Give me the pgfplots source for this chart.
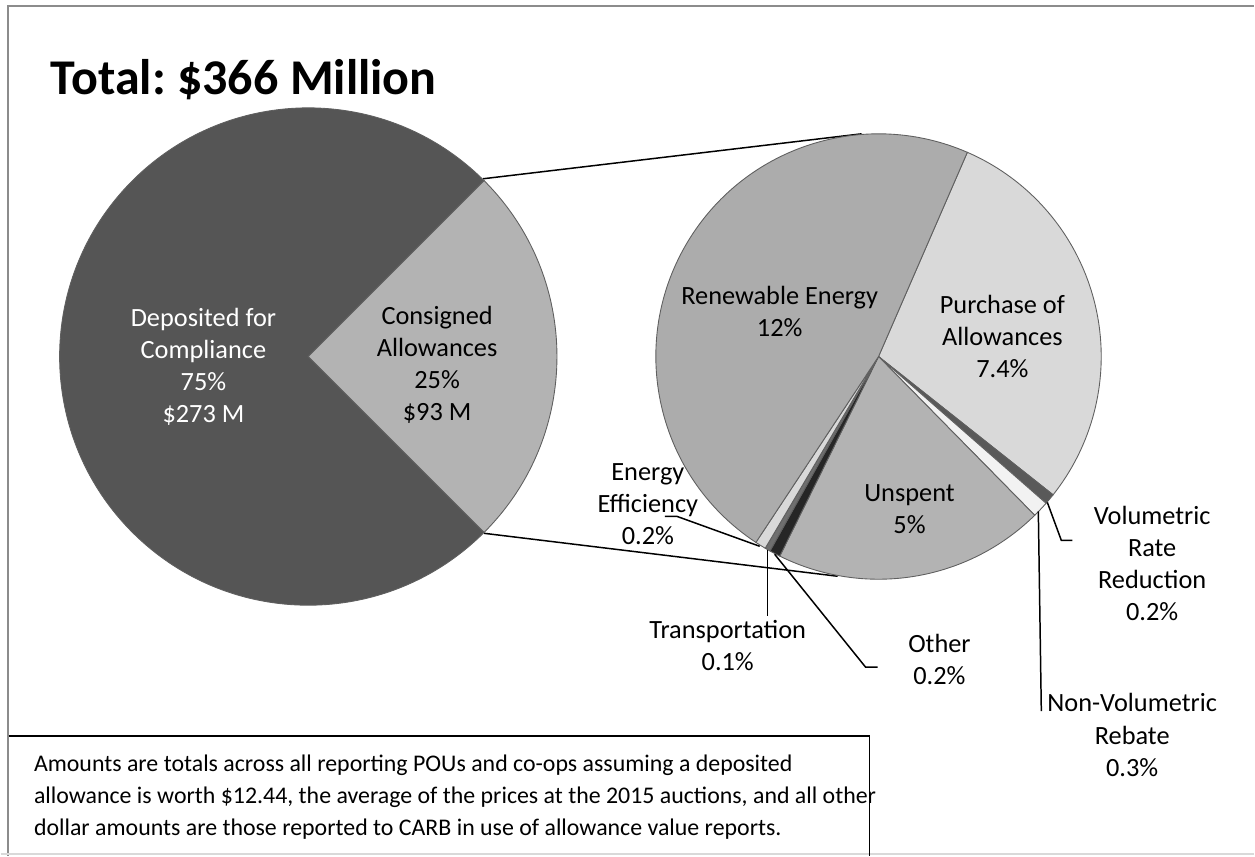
\documentclass[border=0pt]{standalone}
\usepackage{pgfplots}
\pgfplotsset{compat=1.18}
\usepackage{pgfplotstable}
\usepackage{fontspec}
\setmainfont{Carlito}
\frenchspacing

\definecolor{deposited}{HTML}{555555}
\definecolor{consigned}{HTML}{B3B3B3}
\definecolor{renew}{HTML}{ACACAC}
\definecolor{purchase}{HTML}{D9D9D9}
\definecolor{volumetric}{HTML}{595959}
\definecolor{nonvol}{HTML}{F2F2F2}
\definecolor{unspent}{HTML}{B3B3B3}
\definecolor{other}{HTML}{262626}
\definecolor{transport}{HTML}{6F6F6F}
\definecolor{effic}{HTML}{D9D9D9}
\definecolor{edge}{HTML}{5F5F5F}
\definecolor{framegray}{HTML}{8C8C8C}

% share of the total allowance value, percent
\pgfplotstableread[col sep=comma]{
part,value,colour
Deposited for Compliance,75,deposited
Consigned Allowances,25,consigned
}\mainpie

% use of consigned allowance value, percent of total (clockwise)
\pgfplotstableread[col sep=comma]{
part,value,colour
Purchase of Allowances,7.4,purchase
Volumetric Rate Reduction,0.2,volumetric
Non-Volumetric Rebate,0.3,nonvol
Unspent,5,unspent
Other,0.2,other
Transportation,0.1,transport
Energy Efficiency,0.2,effic
Renewable Energy,12,renew
}\splitpie

% #1 table, #2 prefix, #3 start angle; slices run clockwise
\newcommand\pieangles[3]{%
  \gdef\pietotal{0}%
  \pgfplotstableforeachcolumnelement{value}\of#1\as\v{%
    \pgfmathparse{\pietotal+\v}\xdef\pietotal{\pgfmathresult}}%
  \gdef\pieacc{0}%
  \pgfplotstableforeachcolumnelement{value}\of#1\as\v{%
    \pgfmathparse{#3-\pieacc/\pietotal*360}%
    \expandafter\xdef\csname #2s\pgfplotstablerow\endcsname{\pgfmathresult}%
    \pgfmathparse{\pieacc+\v}\xdef\pieacc{\pgfmathresult}%
    \pgfmathparse{#3-\pieacc/\pietotal*360}%
    \expandafter\xdef\csname #2e\pgfplotstablerow\endcsname{\pgfmathresult}}%
  \pgfplotstableforeachcolumnelement{colour}\of#1\as\c{%
    \xglobal\colorlet{#2c\pgfplotstablerow}{\c}}%
}
\pieangles{\mainpie}{m}{-45}
\pieangles{\splitpie}{s}{66.5}

\tikzset{
  lbl/.style={font=\fontsize{15}{18.3}\selectfont, align=center, inner sep=0pt},
  note/.style={anchor=base west, inner sep=0pt, font=\fontsize{13.6}{17}\selectfont},
  leader/.style={black, line width=0.85pt},
}

\begin{document}
\begin{tikzpicture}
\begin{axis}[
    scale only axis,
    width=25.1cm, height=17.14cm,
    xmin=0, xmax=1255, ymin=0, ymax=857,
    y dir=reverse,
    hide axis, clip=false,
]
\path (axis cs:0,0) rectangle (axis cs:1255,857);

% frame
\draw[framegray, line width=1.1pt] (axis cs:7,857) -- (axis cs:7,6) -- (axis cs:1255,6);
\draw[black!15, line width=0.8pt] (axis cs:0,855) -- (axis cs:1255,855);

% connectors between the pies
\draw[leader] (axis cs:483,179) -- (axis cs:862,134);
\draw[leader] (axis cs:484,534) -- (axis cs:838,577);

% main pie
\pgfplotsinvokeforeach{0,1}{%
  \filldraw[draw=edge, line width=0.5pt, fill=mc#1]
    (axis cs:308,357) -- ++(\csname ms#1\endcsname:4.98cm)
    arc[start angle=\csname ms#1\endcsname, end angle=\csname me#1\endcsname, radius=4.98cm]
    -- cycle;
}

% split pie
\pgfplotsinvokeforeach{0,...,7}{%
  \filldraw[draw=edge, line width=0.5pt, fill=sc#1]
    (axis cs:879,357) -- ++(\csname ss#1\endcsname:4.46cm)
    arc[start angle=\csname ss#1\endcsname, end angle=\csname se#1\endcsname, radius=4.46cm]
    -- cycle;
}

% leader lines
\draw[leader] (axis cs:665,517) -- (axis cs:677,517) -- (axis cs:760,547);
\draw[leader] (axis cs:768,551) -- (axis cs:768,617);
\draw[leader] (axis cs:775,555) -- (axis cs:866,668) -- (axis cs:878,668);
\draw[leader] (axis cs:1048,503) -- (axis cs:1062,541) -- (axis cs:1073,541);
\draw[leader] (axis cs:1039,512) -- (axis cs:1042,712);

% title
\node[anchor=base west, inner sep=0pt, font=\fontsize{28.5}{32}\selectfont\bfseries]
  at (axis cs:50,95) {Total: \$366 Million};

% labels
\node[lbl, white] at (axis cs:203,367) {Deposited for\\Compliance\\75\%\\\$273 M};
\node[lbl] at (axis cs:437,365) {Consigned\\Allowances\\25\%\\\$93 M};
\node[lbl] at (axis cs:780,312) {Renewable Energy\\12\%};
\node[lbl] at (axis cs:1003,337) {Purchase of\\Allowances\\7.4\%};
\node[lbl] at (axis cs:910,510) {Unspent\\5\%};
\node[lbl] at (axis cs:648,505) {Energy\\Efficiency\\0.2\%};
\node[lbl] at (axis cs:728,646) {Transportation\\0.1\%};
\node[lbl] at (axis cs:940,660) {Other\\0.2\%};
\node[lbl] at (axis cs:1153,564) {Volumetric\\Rate\\Reduction\\0.2\%};
\node[lbl] at (axis cs:1133,736) {Non-Volumetric\\Rebate\\0.3\%};

% note box
\draw[leader] (axis cs:8,737) -- (axis cs:870,737) -- (axis cs:870,857);
\node[note] at (axis cs:33,773)
  {Amounts are totals across all reporting POUs and co-ops assuming a deposited};
\node[note] at (axis cs:33,805)
  {allowance is worth \$12.44, the average of the prices at the 2015 auctions, and all other};
\node[note] at (axis cs:33,837)
  {dollar amounts are those reported to CARB in use of allowance value reports.};
\end{axis}
\end{tikzpicture}
\end{document}
